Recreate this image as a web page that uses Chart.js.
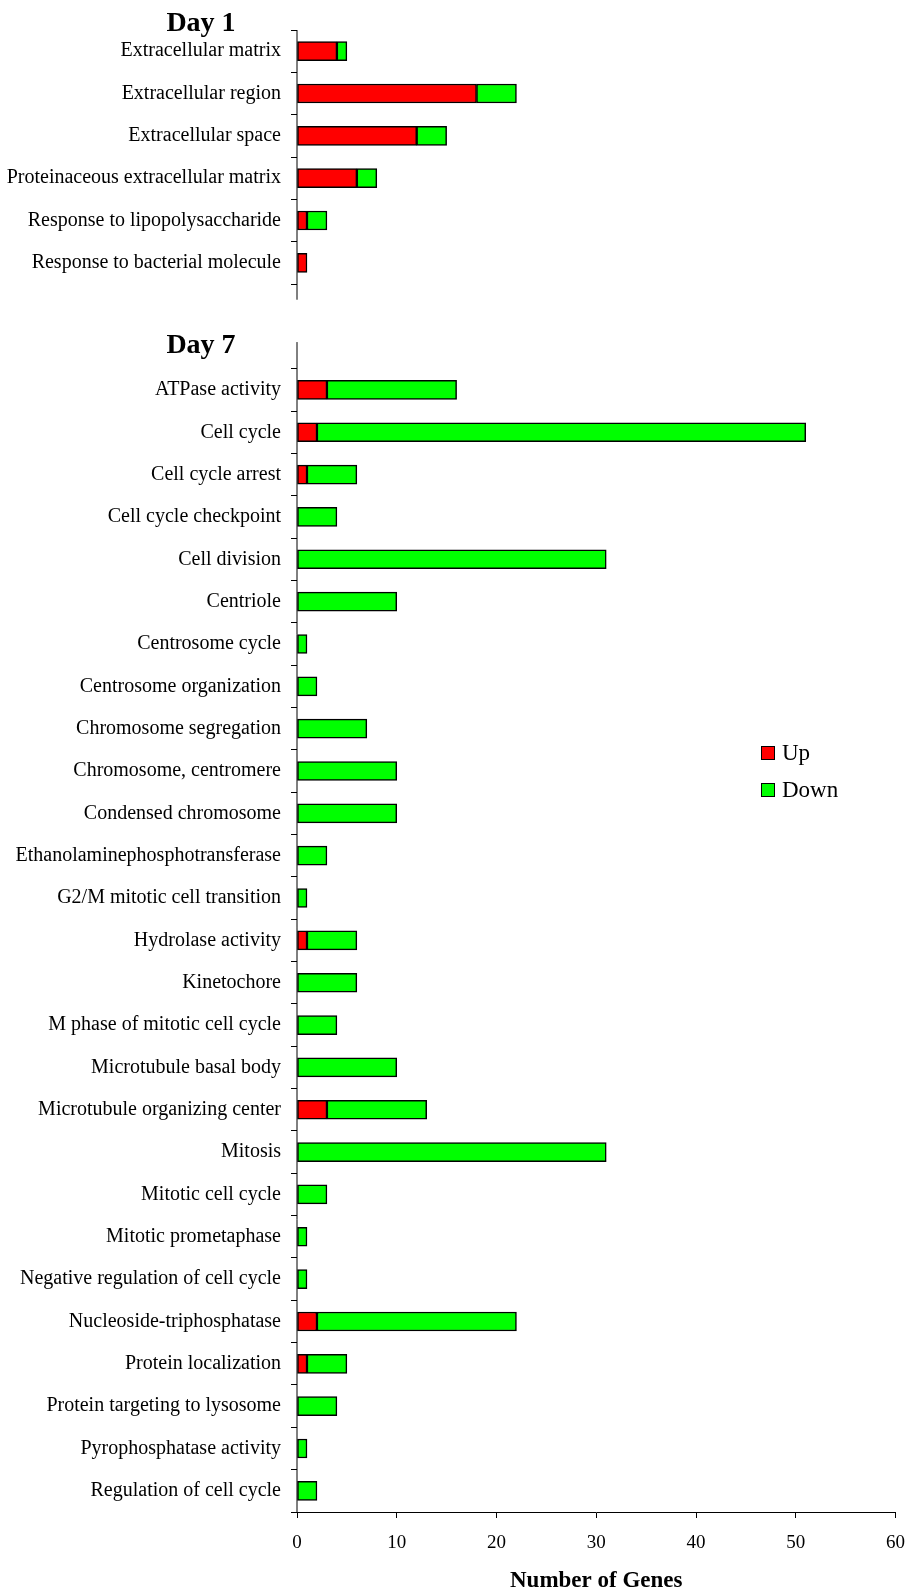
<!DOCTYPE html>
<html>
<head>
<meta charset="utf-8">
<script src="https://cdn.jsdelivr.net/npm/chart.js@4"></script>
<style>
    body { margin: 0; background: #fff; }
    #wrap { position: relative; width: 919px; height: 1595px; }
    .day { position: absolute; width: 120px; margin-left: -60px; text-align: center;
           font: bold 28px 'Liberation Serif', 'Times New Roman', serif; color: #000; line-height: 28px; }
    .legend { position: absolute; left: 761px; font: 23px 'Liberation Serif', 'Times New Roman', serif; color: #000; }
    .legend div { height: 37px; display: flex; align-items: center; }
    .legend span.box { display: inline-block; width: 12px; height: 12px; border: 1.5px solid #000; margin-right: 7px; }
</style>
</head>
<body>
<div id="wrap">
    <canvas id="goChart"></canvas>
    <div class="day" style="left:201px; top:8px;">Day 1</div>
    <div class="day" style="left:201px; top:330px;">Day 7</div>
    <div class="legend" style="top:734px;">
        <div><span class="box" style="background:#ff0000"></span>Up</div>
        <div><span class="box" style="background:#00ff00"></span>Down</div>
    </div>
</div>
<script>
// Termos GO - Dia 1
const day1Terms = [
    'Extracellular matrix',
    'Extracellular region',
    'Extracellular space',
    'Proteinaceous extracellular matrix',
    'Response to lipopolysaccharide',
    'Response to bacterial molecule'
];
const day1Up = [4, 18, 12, 6, 1, 1];
const day1Down = [1, 4, 3, 2, 2, 0];

// Termos GO - Dia 7
const day7Terms = [
    'ATPase activity',
    'Cell cycle',
    'Cell cycle arrest',
    'Cell cycle checkpoint',
    'Cell division',
    'Centriole',
    'Centrosome cycle',
    'Centrosome organization',
    'Chromosome segregation',
    'Chromosome, centromere',
    'Condensed chromosome',
    'Ethanolaminephosphotransferase',
    'G2/M mitotic cell transition',
    'Hydrolase activity',
    'Kinetochore',
    'M phase of mitotic cell cycle',
    'Microtubule basal body',
    'Microtubule organizing center',
    'Mitosis',
    'Mitotic cell cycle',
    'Mitotic prometaphase',
    'Negative regulation of cell cycle',
    'Nucleoside-triphosphatase',
    'Protein localization',
    'Protein targeting to lysosome',
    'Pyrophosphatase activity',
    'Regulation of cell cycle'
];
const day7Up = [3, 2, 1, 0, 0, 0, 0, 0, 0, 0, 0, 0, 0, 1, 0, 0, 0, 3, 0, 0, 0, 0, 2, 1, 0, 0, 0];
const day7Down = [13, 49, 5, 4, 31, 10, 1, 2, 7, 10, 10, 3, 1, 5, 6, 4, 10, 10, 31, 3, 1, 1, 20, 4, 4, 1, 2];

const xTicks = [0, 10, 20, 30, 40, 50, 60];

// duas linhas vazias entre os blocos
const gapSlots = 2;
const blank = new Array(gapSlots).fill(null);
const labels = [...day1Terms, ...blank.map(() => ''), ...day7Terms];
const upData = [...day1Up, ...blank, ...day7Up];
const downData = [...day1Down, ...blank, ...day7Down];

const serif = "'Liberation Serif', 'Times New Roman', serif";

// Eixo Y quebrado entre Dia 1 e Dia 7
const brokenAxis = {
    id: 'brokenAxis',
    afterDatasetsDraw(chart) {
        const { ctx, scales: { x, y } } = chart;
        const slot = (y.bottom - y.top) / labels.length;
        const endDay1 = y.top + day1Terms.length * slot;
        const startDay7 = endDay1 + gapSlots * slot;
        ctx.save();
        ctx.strokeStyle = '#000';
        ctx.lineWidth = 1;
        ctx.beginPath();
        ctx.moveTo(x.left, y.top);
        ctx.lineTo(x.left, endDay1 + 0.37 * slot);
        ctx.moveTo(x.left, startDay7 - 0.63 * slot);
        ctx.lineTo(x.left, y.bottom);
        ctx.stroke();
        ctx.restore();
    }
};

new Chart(document.getElementById('goChart'), {
    type: 'bar',
    data: {
        labels: labels,
        datasets: [{
            label: 'Up',
            data: upData,
            backgroundColor: '#ff0000',
            borderColor: '#000',
            borderWidth: 1.5,
            borderSkipped: false,
            barThickness: 19
        }, {
            label: 'Down',
            data: downData,
            backgroundColor: '#00ff00',
            borderColor: '#000',
            borderWidth: 1.5,
            borderSkipped: false,
            barThickness: 19
        }]
    },
    options: {
        indexAxis: 'y',
        responsive: true,
        maintainAspectRatio: false,
        animation: false,
        layout: { padding: { top: 30, right: 11, bottom: 0, left: 0 } },
        plugins: {
            legend: { display: false },
            tooltip: { enabled: false }
        },
        scales: {
            x: {
                stacked: true,
                min: 0,
                max: 60,
                afterBuildTicks: s => { s.ticks = xTicks.map(v => ({ value: v })); },
                afterFit: s => { s.height = 83; },
                grid: { drawOnChartArea: false, tickLength: 6, color: '#000' },
                border: { display: true, color: '#000', width: 1 },
                ticks: { color: '#000', padding: 14, font: { family: serif, size: 19 } },
                title: {
                    display: true,
                    text: 'Number of Genes',
                    color: '#000',
                    padding: 0,
                    font: { family: serif, size: 23, weight: 'bold' }
                }
            },
            y: {
                stacked: true,
                afterFit: s => { s.width = 297; },
                grid: {
                    offset: true,
                    drawOnChartArea: false,
                    tickLength: 6,
                    color: c => c.index === day1Terms.length + 1 ? 'rgba(0,0,0,0)' : '#000'
                },
                border: { display: false },
                ticks: { color: '#000', padding: 10, autoSkip: false, font: { family: serif, size: 20 } }
            }
        }
    },
    plugins: [brokenAxis]
});
</script>
</body>
</html>
